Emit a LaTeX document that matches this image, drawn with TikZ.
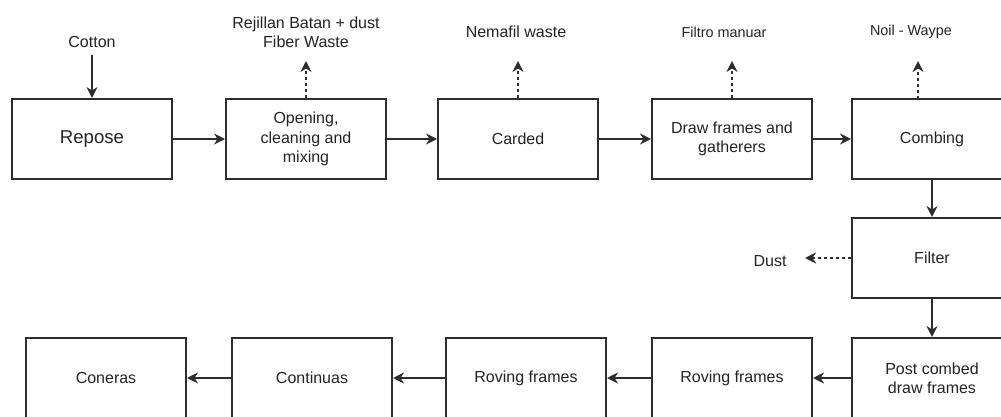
\documentclass[tikz,border=0pt]{standalone}
\usepackage{fontspec}
\setmainfont{Liberation Sans}
\definecolor{linegray}{RGB}{45,45,45}
\definecolor{textgray}{RGB}{35,35,35}
\usetikzlibrary{arrows.meta, positioning}

\begin{document}
\begin{tikzpicture}[x=0.5pt, y=-0.5pt,
  every node/.style={font=\fontsize{8}{9.6}\selectfont, text=textgray},
  stage/.style={draw=linegray, line width=1pt, minimum width=80pt,
                minimum height=40pt, align=center, inner sep=2pt},
  flow/.style={draw=linegray, line width=1pt, -{Stealth[length=5.5pt, width=5.5pt]}},
  waste/.style={flow, dash pattern=on 1.5pt off 1.5pt},
  small/.style={font=\fontsize{7.2}{8.6}\selectfont}]
\useasboundingbox (0,0) rectangle (1001,417);
% Top row
\node[stage, font=\fontsize{9.3}{11}\selectfont] (repose) at (92,139) {Repose};
\node[stage] (opening) at (306,139) {Opening,\\cleaning and\\mixing};
\node[stage] (carded) at (518,139) {Carded};
\node[stage] (drawfr) at (732,139) {Draw frames and\\gatherers};
\node[stage] (combing) at (932,139) {Combing};
% Right column
\node[stage] (filter) at (932,258) {Filter};
\node[stage] (postcomb) at (932,378) {Post combed\\draw frames};
% Bottom row
\node[stage] (roving2) at (732,378) {Roving frames};
\node[stage] (roving1) at (526,378) {Roving frames};
\node[stage] (continuas) at (312,378) {Continuas};
\node[stage] (coneras) at (106,378) {Coneras};
% Inputs and waste labels
\node (cotton) at (92,42) {Cotton};
\node[align=center] (rejilla) at (306,32) {Rejillan Batan + dust\\Fiber Waste};
\node (nemafil) at (516,32) {Nemafil waste};
\node[small] (filtro) at (724,32) {Filtro manuar};
\node[small] (noil) at (911,32) {Noil - Waype};
\node (dust) at (770,261) {Dust};
\coordinate (wopen) at (306,61);
\coordinate (wcard) at (518,61);
\coordinate (wdraw) at (732,61);
\coordinate (wcomb) at (918,61);
\coordinate (wcombb) at (918,99);
\coordinate (wdust) at (805,258);
% Main flow
\draw[flow] (cotton) -- (repose);
\draw[flow] (repose) -- (opening);
\draw[flow] (opening) -- (carded);
\draw[flow] (carded) -- (drawfr);
\draw[flow] (drawfr) -- (combing);
\draw[flow] (combing) -- (filter);
\draw[flow] (filter) -- (postcomb);
\draw[flow] (postcomb) -- (roving2);
\draw[flow] (roving2) -- (roving1);
\draw[flow] (roving1) -- (continuas);
\draw[flow] (continuas) -- (coneras);
% Waste outputs
\draw[waste] (opening.north) -- (wopen);
\draw[waste] (carded.north -| wcard) -- (wcard);
\draw[waste] (drawfr.north -| wdraw) -- (wdraw);
\draw[waste] (wcombb) -- (wcomb);
\draw[waste] (filter.west |- wdust) -- (wdust);
\end{tikzpicture}
\end{document}
